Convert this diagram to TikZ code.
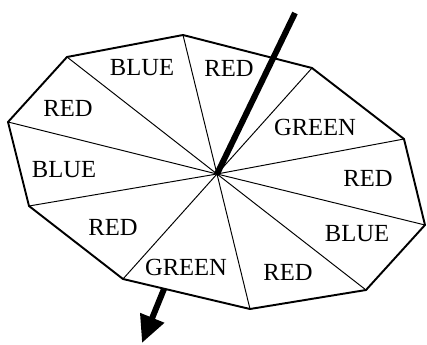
\documentclass[tikz,border=0pt]{standalone}
\usepackage{fontspec}
\setmainfont{Liberation Serif}
\usetikzlibrary{arrows.meta}
\tikzset{
  rim/.style={line width=1.1pt, line join=round},
  spoke/.style={line width=0.55pt},
  axis/.style={line width=3.4pt},
  sector/.style={font=\fontsize{14}{16}\selectfont, inner sep=0pt},
}
\begin{document}
\begin{tikzpicture}[x=0.02cm, y=-0.02cm]
  \useasboundingbox (0,0) rectangle (427,345);
  % corners of the disk
  \coordinate (c) at (217,174);
  \coordinate (v1) at (67,57);
  \coordinate (v2) at (183,35);
  \coordinate (v3) at (312,68);
  \coordinate (v4) at (404,139);
  \coordinate (v5) at (425,225);
  \coordinate (v6) at (366,290);
  \coordinate (v7) at (250,309);
  \coordinate (v8) at (123,279);
  \coordinate (v9) at (29,206);
  \coordinate (v10) at (8,122);
  \foreach \i in {1,...,10}
    \draw[spoke] (c) -- (v\i);
  \draw[rim] (v1) -- (v2) -- (v3) -- (v4) -- (v5) -- (v6) -- (v7) -- (v8) -- (v9) -- (v10) -- cycle;
  % sector labels
  \node[sector] (s1) at (142,68) {BLUE};
  \node[sector] (s2) at (229,68) {RED};
  \node[sector] (s3) at (315,127) {GREEN};
  \node[sector] (s4) at (368,178) {RED};
  \node[sector] (s5) at (357,234) {BLUE};
  \node[sector] (s6) at (288,272) {RED};
  \node[sector] (s7) at (186,267) {GREEN};
  \node[sector] (s8) at (113,227) {RED};
  \node[sector] (s9) at (64,170) {BLUE};
  \node[sector] (s10) at (68,108) {RED};
  % axis through the disk
  \coordinate (top) at (295,13);
  \coordinate (low) at (164,289);
  \coordinate (tip) at (142,343);
  \draw[axis] (top) -- (c);
  \draw[axis, -{Triangle[length=15.5pt, width=14pt]}] (low) -- (tip);
\end{tikzpicture}
\end{document}
